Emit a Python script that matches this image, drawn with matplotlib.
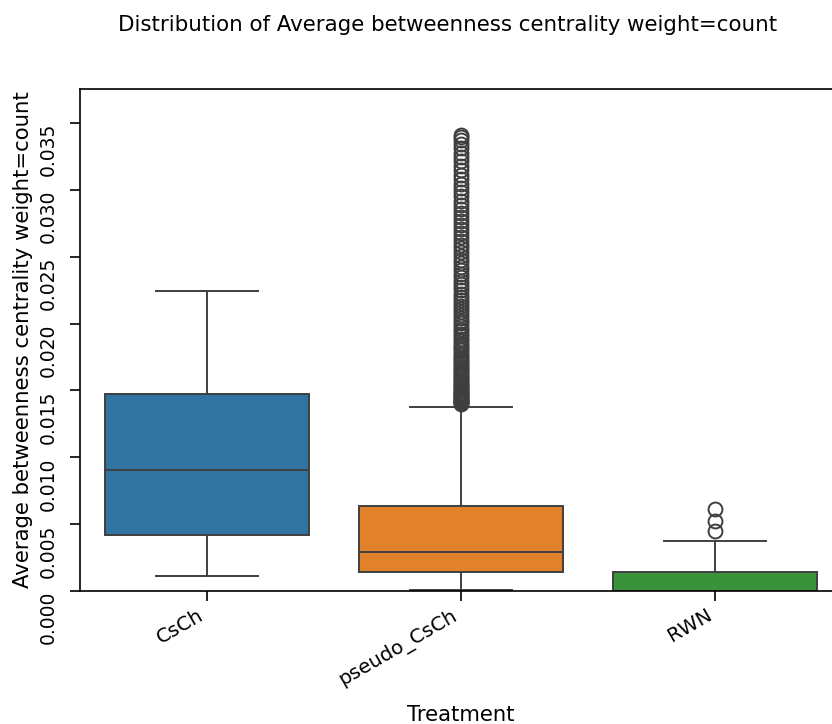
import matplotlib
matplotlib.use("Agg")
import matplotlib.pyplot as plt

# box statistics
treatments = ["CsCh", "pseudo_CsCh", "RWN"]
whislo = [0.00112, 0.00005, 0.0]
q1 = [0.00420, 0.00142, 0.0]
med = [0.00907, 0.00292, 0.0]
q3 = [0.01477, 0.00637, 0.00142]
whishi = [0.02241, 0.01380, 0.00375]

csch_fliers = []
pseudo_fliers = [
    0.01402, 0.01406, 0.01411, 0.01417, 0.01423, 0.01430, 0.01436, 0.01444,
    0.01451, 0.01459, 0.01466, 0.01475, 0.01483, 0.01492, 0.01501, 0.01510,
    0.01521, 0.01530, 0.01541, 0.01552, 0.01563, 0.01574, 0.01586, 0.01598,
    0.01611, 0.01623, 0.01636, 0.01650, 0.01663, 0.01677, 0.01691, 0.01706,
    0.01720, 0.01736, 0.01751, 0.01767, 0.01783, 0.01800, 0.01816, 0.01833,
    0.01851, 0.01869, 0.01887, 0.01905, 0.01924, 0.01943, 0.01963, 0.01982,
    0.02003, 0.02023, 0.02044, 0.02065, 0.02087, 0.02109, 0.02131, 0.02154,
    0.02177, 0.02200, 0.02224, 0.02248, 0.02272, 0.02297, 0.02322, 0.02347,
    0.02373, 0.02399, 0.02425, 0.02452, 0.02479, 0.02506, 0.02534, 0.02562,
    0.02590, 0.02619, 0.02648, 0.02677, 0.02706, 0.02736, 0.02766, 0.02796,
    0.02827, 0.02858, 0.02889, 0.02920, 0.02952, 0.02984, 0.03016, 0.03048,
    0.03081, 0.03114, 0.03147, 0.03180, 0.03213, 0.03246, 0.03279, 0.03311,
    0.03342, 0.03370, 0.03393, 0.03412,
]
rwn_fliers = [0.00450, 0.00525, 0.00615]
fliers = [csch_fliers, pseudo_fliers, rwn_fliers]

colors = ["#3274a1", "#e1812c", "#3a923a"]
edge = "#3f3f3f"

fig = plt.figure(figsize=(8.32, 7.24), dpi=100)
ax = fig.add_axes([80 / 832, 1 - 591 / 724, 762 / 832, 502 / 724])

stats = []
for i, name in enumerate(treatments):
    stats.append(dict(label=name, whislo=whislo[i], q1=q1[i], med=med[i],
                      q3=q3[i], whishi=whishi[i], fliers=fliers[i]))

bp = ax.bxp(stats, positions=range(len(treatments)), widths=0.8,
            patch_artist=True, showfliers=True,
            boxprops=dict(edgecolor=edge, linewidth=1.4),
            whiskerprops=dict(color=edge, linewidth=1.4),
            capprops=dict(color=edge, linewidth=1.4),
            medianprops=dict(color=edge, linewidth=1.4),
            flierprops=dict(marker="o", markerfacecolor="none",
                            markeredgecolor=edge, markersize=10,
                            markeredgewidth=1.4),
            capwidths=0.4)
for patch, c in zip(bp["boxes"], colors):
    patch.set_facecolor(c)

ax.set_xlim(-0.5, 2.5)
ax.set_ylim(0, 0.03755)
ax.set_yticks([0.0, 0.005, 0.010, 0.015, 0.020, 0.025, 0.030, 0.035])
ax.set_yticklabels(["0.000", "0.005", "0.010", "0.015", "0.020", "0.025",
                    "0.030", "0.035"], rotation=90, va="top", fontsize=13.5)
ax.set_xticks(range(len(treatments)))
ax.set_xticklabels(treatments, rotation=30, ha="right", fontsize=14.3)
ax.tick_params(length=7, width=1.2)
ax.tick_params(axis="y", pad=9)
for s in ax.spines.values():
    s.set_linewidth(1.2)

ax.set_xlabel("Treatment", fontsize=15.2, labelpad=11)
ax.set_ylabel("Average betweenness centrality weight=count", fontsize=15.3)
fig.suptitle("Distribution of Average betweenness centrality weight=count",
             x=448 / 832, y=1 - 15 / 724, fontsize=15.4)

fig.savefig("out.png", dpi=100)
